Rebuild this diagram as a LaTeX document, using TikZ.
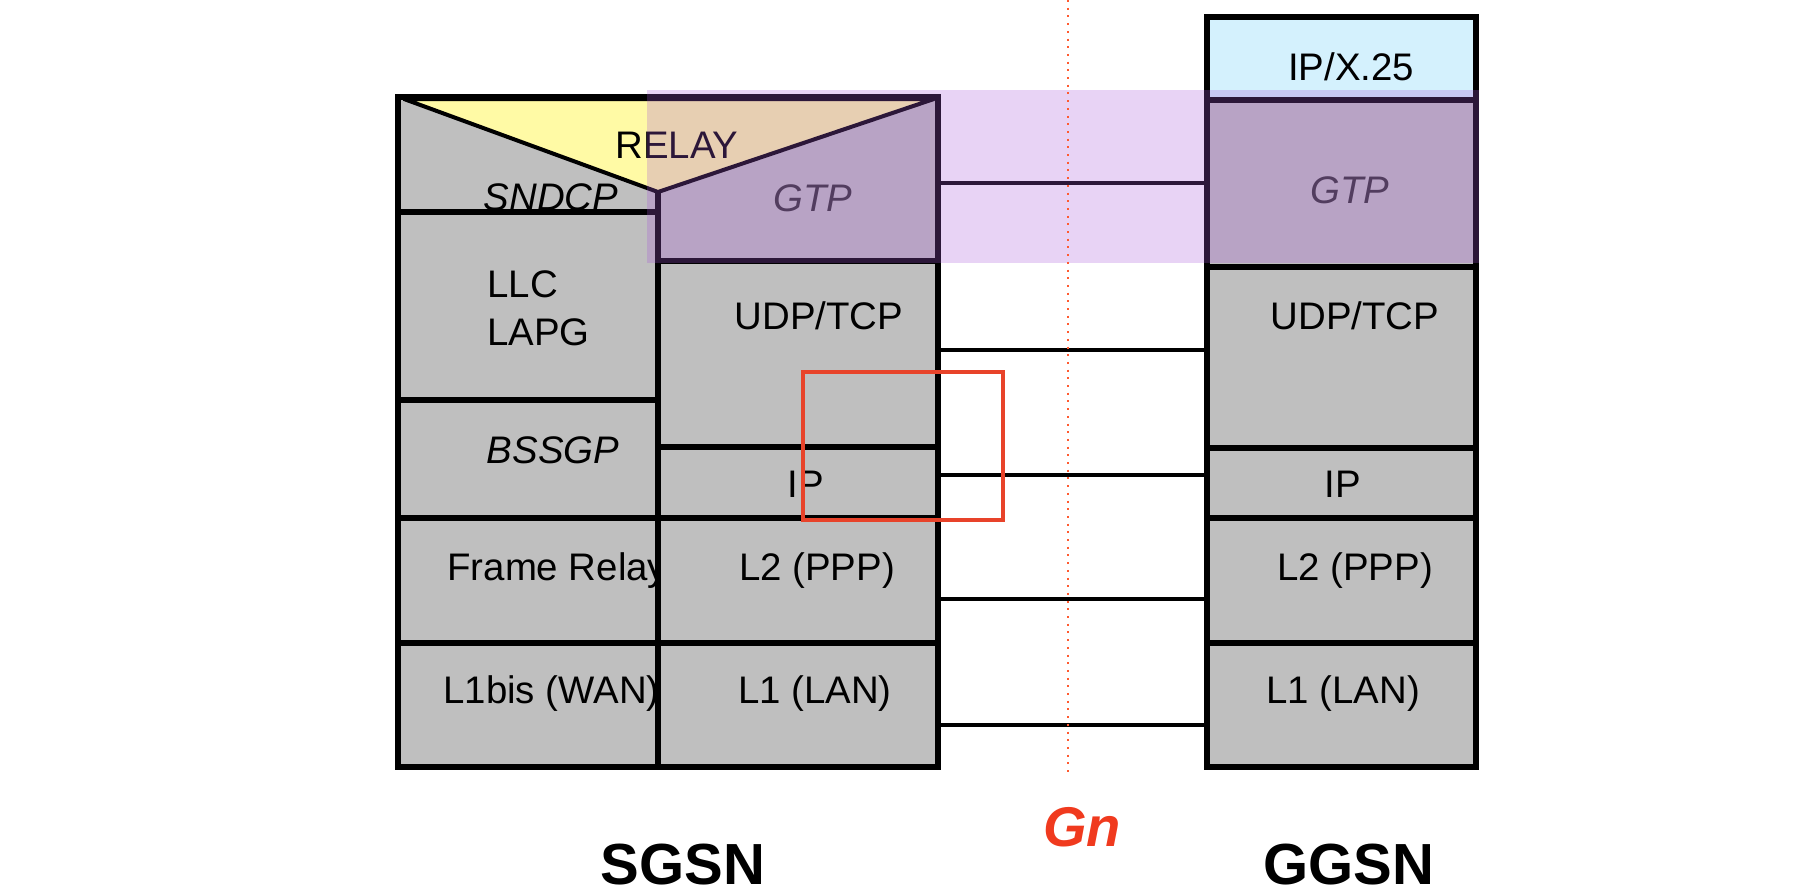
\documentclass[tikz,border=0pt]{standalone}
\usepackage{fontspec}
\setmainfont{Liberation Sans}
\definecolor{cellgray}{HTML}{BFBFBF}
\definecolor{relayyellow}{HTML}{FFFAA5}
\definecolor{ipcyan}{HTML}{D4F1FD}
\definecolor{bandpurple}{RGB}{168,89,217}
\definecolor{gnred}{HTML}{F03A1E}
\definecolor{dotred}{HTML}{FF5A30}
\definecolor{boxred}{HTML}{E8432A}
\tikzset{
  cellline/.style={line width=2.6pt, draw=black},
  sepline/.style={line width=2.6pt, draw=black},
  link/.style={line width=1.6pt, draw=black},
  lbl/.style={anchor=base, inner sep=0pt, font=\fontsize{19.2}{23}\selectfont},
  lbll/.style={anchor=base west, inner sep=0pt, font=\fontsize{19.2}{23}\selectfont},
  ilbl/.style={anchor=base, inner sep=0pt, font=\fontsize{19.2}{23}\selectfont\itshape},
  big/.style={anchor=base, inner sep=0pt, font=\fontsize{29}{34}\selectfont\bfseries},
}
\begin{document}
\begin{tikzpicture}[x=0.5pt,y=-0.5pt]
\useasboundingbox (0,0) rectangle (1808,894);
% ---------------- SGSN ----------------
\fill[cellgray] (398,97) rectangle (938,767);
\filldraw[fill=relayyellow, draw=black, line width=2pt, line join=round]
  (404,99) -- (934,99) -- (658,192) -- cycle;
\node[lbl] (relay) at (677,158) {RELAY};
\node[ilbl] (sndcp) at (551,210) {SNDCP};
\node[ilbl, text=black!80] (sgtp) at (813,211) {GTP};
\begin{scope}
  \clip (398,0) rectangle (658,894);
  \node[lbll] (llc) at (487,297) {LLC};
  \node[lbll] (lapg) at (487,345) {LAPG};
  \node[ilbl] (bssgp) at (553,463) {BSSGP};
  \node[lbll] (fr) at (447,580) {Frame Relay};
  \node[lbll] (l1bis) at (443,703) {L1bis (WAN)};
\end{scope}
\node[lbl] (sudp) at (819,329) {UDP/TCP};
\node[lbl] (sip) at (806,497) {IP};
\node[lbl] (sl2) at (817,580) {L2 (PPP)};
\node[lbl] (sl1) at (815,703) {L1 (LAN)};
% inner lines
\draw[sepline] (658,192) -- (658,767);
\draw[sepline] (398,212) -- (658,212);
\draw[sepline] (398,400) -- (658,400);
\draw[sepline] (398,518) -- (938,518);
\draw[sepline] (398,643) -- (938,643);
\draw[sepline] (658,261) -- (938,261);
\draw[sepline] (658,447) -- (938,447);
\draw[cellline] (398,97) rectangle (938,767);
% ---------------- GGSN ----------------
\filldraw[fill=ipcyan, cellline] (1207,17) rectangle (1476,100);
\filldraw[fill=cellgray, cellline] (1207,100) rectangle (1476,267);
\filldraw[fill=cellgray, cellline] (1207,267) rectangle (1476,448);
\filldraw[fill=cellgray, cellline] (1207,448) rectangle (1476,518);
\filldraw[fill=cellgray, cellline] (1207,518) rectangle (1476,643);
\filldraw[fill=cellgray, cellline] (1207,643) rectangle (1476,767);
\draw[line width=3.4pt] (1207,267) -- (1476,267);
\draw[line width=3.4pt] (1207,448) -- (1476,448);
\node[lbl] (gip25) at (1351,80) {IP/X.25};
\node[ilbl, text=black!80] (ggtp) at (1350,203) {GTP};
\node[lbl] (gudp) at (1355,329) {UDP/TCP};
\node[lbl] (gip) at (1343,497) {IP};
\node[lbl] (gl2) at (1355,580) {L2 (PPP)};
\node[lbl] (gl1) at (1343,703) {L1 (LAN)};
% ---------------- connectors ----------------
\coordinate (s1) at (938,183); \coordinate (g1) at (1207,183);
\coordinate (s2) at (938,350); \coordinate (g2) at (1207,350);
\coordinate (s3) at (938,475); \coordinate (g3) at (1207,475);
\coordinate (s4) at (938,599); \coordinate (g4) at (1207,599);
\coordinate (s5) at (938,725); \coordinate (g5) at (1207,725);
\draw[link] (s1) -- (g1);
\draw[link] (s2) -- (g2);
\draw[link] (s3) -- (g3);
\draw[link] (s4) -- (g4);
\draw[link] (s5) -- (g5);
% ---------------- GTP band ----------------
\fill[bandpurple, opacity=0.266] (647,90) rectangle (1479,263);
% ---------------- Gn ----------------
\coordinate (gntop) at (1068,0);
\coordinate (gnbot) at (1068,775);
\draw[dotred, line width=1.1pt, dash pattern=on 1pt off 2.85pt] (gntop) -- (gnbot);
\node[anchor=base, inner sep=0pt, text=gnred, font=\fontsize{28}{33}\selectfont\bfseries\itshape] (gn) at (1082,846) {Gn};
\node[big] (sgsn) at (683,884) {SGSN};
\node[big] (ggsn) at (1349,884) {GGSN};
% ---------------- highlight box ----------------
\draw[boxred, line width=2.3pt] (803,372) rectangle (1003,520);
\end{tikzpicture}
\end{document}
